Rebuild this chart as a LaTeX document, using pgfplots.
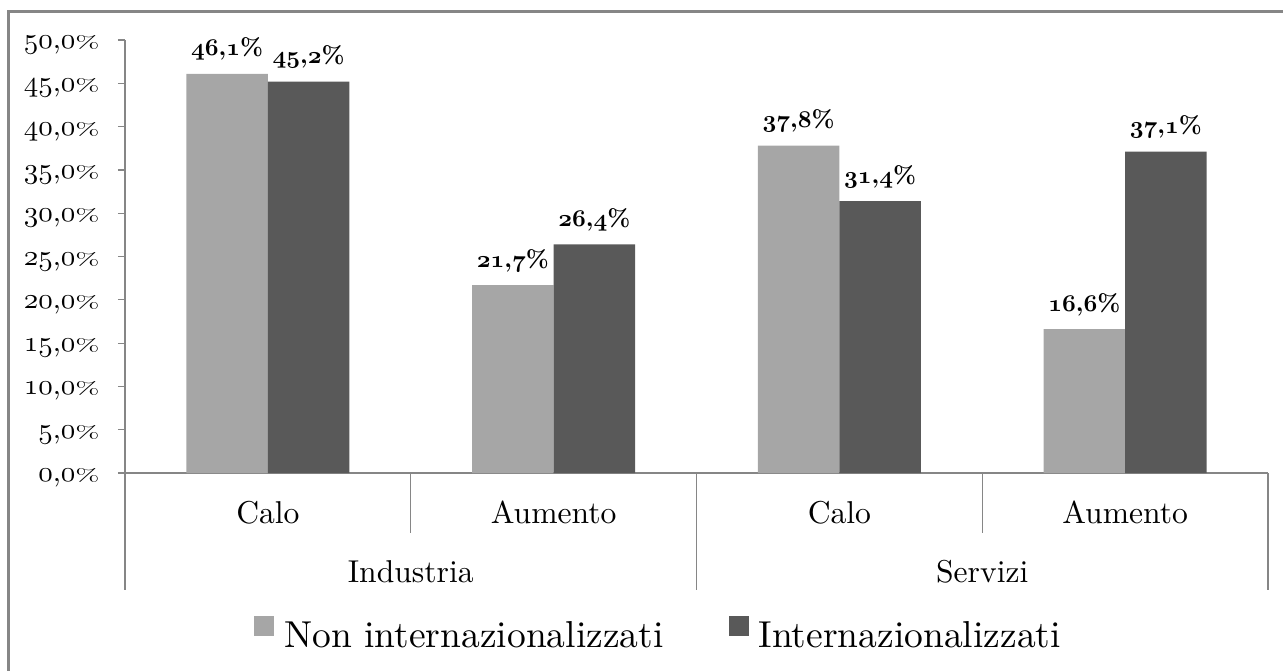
\documentclass[border=0pt]{standalone}
\usepackage{pgfplots}
\pgfplotsset{compat=1.18}
\usepackage{graphicx}
\definecolor{lightbar}{HTML}{A6A6A6}
\definecolor{darkbar}{HTML}{595959}
\definecolor{axgray}{HTML}{868686}
\protected\def\osn#1{{\usefont{OML}{cmm}{m}{it}#1}}
\protected\def\osb#1{{\usefont{OML}{cmm}{b}{it}#1}}
\protected\def\tpc{\scalebox{1}[0.6]{\%}}
\protected\def\tl#1#2{\scalebox{1.45}{\fontsize{10}{12}\selectfont\osn{#1},\osn{#2}\tpc}}
\protected\def\dl#1#2{\scalebox{1.2}{\fontsize{10}{12}\selectfont\bfseries\osb{#1},\osb{#2}\%}}
\protected\def\ft#1#2{\scalebox{#1}{\fontsize{10}{12}\selectfont #2}}
\begin{document}
\begin{tikzpicture}
\useasboundingbox (0,0) rectangle (641.5pt,335pt);
\draw[axgray, line width=1.5pt] (4.25pt,-2pt) -- (4.25pt,329.25pt) -- (645pt,329.25pt);
\begin{axis}[
  at={(62.5pt,98.5pt)}, anchor=south west,
  scale only axis, width=571.5pt, height=216.5pt,
  xmin=0, xmax=4, ymin=0, ymax=50,
  ybar=0pt, bar width=0.285,
  axis x line*=bottom, axis y line*=left,
  axis line style={axgray, line width=0.6pt, -},
  ytick={0,5,...,50},
  yticklabels={\tl{0}{0},\tl{5}{0},\tl{10}{0},\tl{15}{0},\tl{20}{0},\tl{25}{0},\tl{30}{0},\tl{35}{0},\tl{40}{0},\tl{45}{0},\tl{50}{0}},
  yticklabel style={anchor=base east, inner sep=0pt, xshift=-9pt, yshift=-4.25pt},
  tick align=outside, major tick length=3.5pt,
  ytick style={axgray, line width=0.6pt},
  xtick={0.5,1.5,2.5,3.5}, xticklabels={\ft{1.58}{Calo},\ft{1.58}{Aumento},\ft{1.58}{Calo},\ft{1.58}{Aumento}},
  xtick style={draw=none},
  xticklabel style={anchor=base, inner sep=0pt, yshift=-21.5pt},
  clip=false,
  nodes near coords, point meta=explicit symbolic,
  every node near coord/.append style={anchor=base, inner sep=0pt, yshift=9pt},
  legend columns=2,
  legend style={at={(0.4659,-0.3695)}, anchor=center, draw=none, fill=none,
    nodes={inner sep=0pt},
    /tikz/every odd column/.append style={column sep=5pt},
    /tikz/every even column/.append style={column sep=32.5pt}},
  legend image code/.code={\fill[#1] (0pt,0pt) rectangle (10pt,10pt);},
]
\addplot[fill=lightbar, draw=none] coordinates {(0.5,46.1)[\dl{46}{1}] (1.5,21.7)[\dl{21}{7}] (2.5,37.8)[\dl{37}{8}] (3.5,16.6)[\dl{16}{6}]};
\addplot[fill=darkbar, draw=none] coordinates {(0.5,45.2)[\dl{45}{2}] (1.5,26.4)[\dl{26}{4}] (2.5,31.4)[\dl{31}{4}] (3.5,37.1)[\dl{37}{1}]};
\legend{\ft{1.875}{Non internazionalizzati}, \ft{1.875}{Internazionalizzati}}
\draw[axgray, line width=0.6pt] (axis cs:0,0) -- ++(0,-58.5pt);
\draw[axgray, line width=0.6pt] (axis cs:1,0) -- ++(0,-30pt);
\draw[axgray, line width=0.6pt] (axis cs:2,0) -- ++(0,-58.5pt);
\draw[axgray, line width=0.6pt] (axis cs:3,0) -- ++(0,-30pt);
\draw[axgray, line width=0.6pt] (axis cs:4,0) -- ++(0,-58.5pt);
\node[anchor=base, yshift=-54.5pt, inner sep=0pt] at (axis cs:1,0) {\ft{1.58}{Industria}};
\node[anchor=base, yshift=-54.5pt, inner sep=0pt] at (axis cs:3,0) {\ft{1.58}{Servizi}};
\end{axis}
\end{tikzpicture}
\end{document}
